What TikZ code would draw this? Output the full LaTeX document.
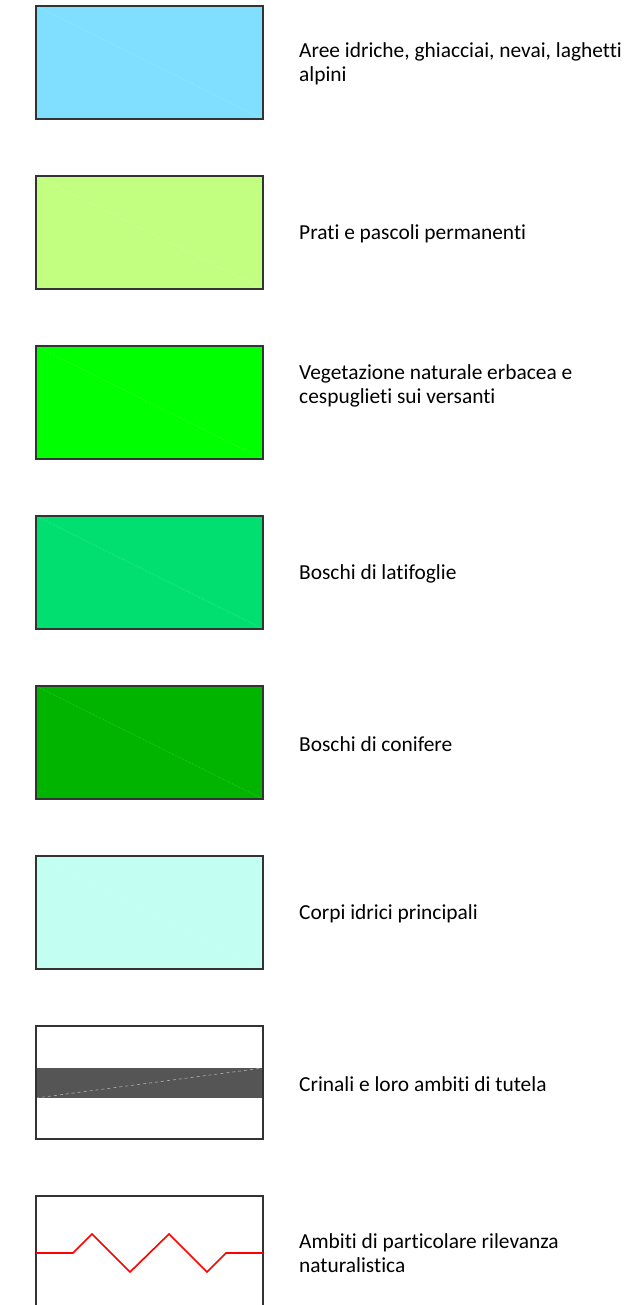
\documentclass[tikz,border=0pt]{standalone}
\usepackage{fontspec}
\setmainfont[Ligatures={NoCommon}]{Carlito}
\definecolor{cA}{HTML}{80DFFF}
\definecolor{cB}{HTML}{C2FF80}
\definecolor{cC}{HTML}{00FF00}
\definecolor{cD}{HTML}{00DF70}
\definecolor{cE}{HTML}{00B400}
\definecolor{cF}{HTML}{C2FFF2}
\definecolor{band}{HTML}{555555}
\definecolor{zig}{HTML}{FF0000}
\begin{document}
\begin{tikzpicture}[x=1pt,y=-1pt,
  legbox/.style={draw=black!80,line width=1.2pt},
  diag/.style={white,opacity=0.25,line width=0.6pt,densely dotted},
  lab/.style={anchor=west,align=left,font=\fontsize{21.4pt}{24pt}\selectfont,inner sep=0pt}]
\useasboundingbox (0,0) rectangle (628,1305);
\clip (0,0) rectangle (628,1305);
\foreach \c/\i in {cA/0,cB/1,cC/2,cD/3,cE/4,cF/5}{
  \fill[\c] (36,6+170*\i) rectangle (263,119+170*\i);
  \draw[diag] (36,6+170*\i) -- (263,119+170*\i);
  \draw[legbox] (36,6+170*\i) rectangle (263,119+170*\i);
}
% box 7
\fill[band] (36,1068) rectangle (263,1098);
\draw[white!70!black,line width=0.6pt,dashed] (36,1098) -- (263,1068);
\draw[legbox] (36,1026) rectangle (263,1139);
% box 8
\draw[legbox] (36,1196) rectangle (263,1310);
\draw[zig,line width=1.6pt] (36,1253) -- (73,1253) -- (92,1234) -- (130,1272) -- (169,1234) -- (207,1272) -- (226,1253) -- (263,1253);
\node[lab] (t1) at (299,63.5) {Aree idriche, ghiacciai, nevai, laghetti\\alpini};
\node[lab] (t2) at (299,233.5) {Prati e pascoli permanenti};
\node[lab] (t3) at (299,386) {Vegetazione naturale erbacea e\\cespuglieti sui versanti};
\node[lab] (t4) at (299,573.5) {Boschi di latifoglie};
\node[lab] (t5) at (299,744) {Boschi di conifere};
\node[lab] (t6) at (299,913.5) {Corpi idrici principali};
\node[lab] (t7) at (299,1084) {Crinali e loro ambiti di tutela};
\node[lab] (t8) at (299,1253) {Ambiti di particolare rilevanza\\naturalistica};
\end{tikzpicture}
\end{document}
